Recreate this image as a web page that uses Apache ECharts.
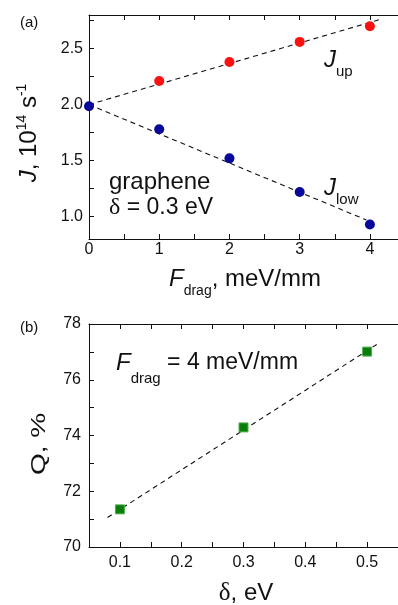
<!DOCTYPE html>
<html>
<head>
<meta charset="utf-8">
<script src="https://cdn.jsdelivr.net/npm/echarts@6/dist/echarts.min.js"></script>
<style>
html,body{margin:0;padding:0;background:#fff;}
#c{width:398px;height:605px;}
</style>
</head>
<body>
<div id="c"></div>
<script>
// ---- Data (panel a) ----
const fDragUp = [1, 2, 3, 4];
const jUp = [2.21, 2.38, 2.56, 2.70];
const fDragLow = [0, 1, 2, 3, 4];
const jLow = [1.985, 1.78, 1.52, 1.22, 0.93];
const fitUpX = [0, 4.17];
const fitUpY = [2.0, 2.765];
const fitLowX = [0, 3.95];
const fitLowY = [2.0, 0.97];
// tick labels (panel a)
const aXLabels = [0, 1, 2, 3, 4];
const aXTicks = [0, 0.5, 1, 1.5, 2, 2.5, 3, 3.5, 4];
const aYLabels = [1.0, 1.5, 2.0, 2.5];
const aYTicks = [1.0, 1.25, 1.5, 1.75, 2.0, 2.25, 2.5, 2.75];

// ---- Data (panel b) ----
const delta = [0.1, 0.3, 0.5];
const qVals = [71.35, 74.29, 77.01];
const fitQX = [0.08, 0.52];
const fitQY = [71.06, 77.33];
// tick labels (panel b)
const bXLabels = [0.1, 0.2, 0.3, 0.4, 0.5];
const bXTicks = [0.1, 0.15, 0.2, 0.25, 0.3, 0.35, 0.4, 0.45, 0.5];
const bYLabels = [70, 72, 74, 76, 78];
const bYTicks = [70, 71, 72, 73, 74, 75, 76, 77, 78];

const FONT = '"Liberation Sans", Arial, sans-serif';
const SERIF = '"Liberation Serif", "Times New Roman", serif';
const AX = '#111';

function axisBase(extra) {
  return Object.assign({
    type: 'value',
    splitLine: { show: false },
    axisLine: { show: true, onZero: false, lineStyle: { color: AX, width: 1 } },
    axisTick: { show: true, inside: true, length: 5, lineStyle: { color: AX, width: 1 } },
    axisLabel: { show: true, color: '#111', fontSize: 16, fontFamily: FONT }
  }, extra);
}
function ticksOnly(extra, ticks) {
  const o = axisBase(extra);
  o.axisLabel = { show: false };
  o.axisTick = { show: true, inside: true, length: 5, lineStyle: { color: AX, width: 1 }, customValues: ticks };
  return o;
}

const zip = (xs, ys) => xs.map((x, i) => [x, ys[i]]);
const txt = '#111';

const option = {
  animation: false,
  backgroundColor: '#fff',
  textStyle: { fontFamily: FONT },
  grid: [
    { left: 89, top: 15, width: 311, height: 224, containLabel: false },
    { left: 89, top: 324, width: 317, height: 223, containLabel: false }
  ],
  xAxis: [
    (function () {
      const o = axisBase({ gridIndex: 0, min: 0, max: 4.4, position: 'bottom' });
      o.axisLabel.customValues = aXLabels; o.axisLabel.margin = 3;
      o.axisTick.customValues = aXTicks;
      return o;
    })(),
    ticksOnly({ gridIndex: 0, min: 0, max: 4.4, position: 'top' }, aXTicks),
    (function () {
      const o = axisBase({ gridIndex: 1, min: 0.05, max: 0.55, position: 'bottom' });
      o.axisLabel.customValues = bXLabels; o.axisLabel.margin = 8;
      o.axisLabel.formatter = v => v.toFixed(1);
      o.axisTick.customValues = bXTicks;
      return o;
    })(),
    ticksOnly({ gridIndex: 1, min: 0.05, max: 0.55, position: 'top' }, bXTicks)
  ],
  yAxis: [
    (function () {
      const o = axisBase({ gridIndex: 0, min: 0.8, max: 2.8, position: 'left' });
      o.axisLabel.customValues = aYLabels; o.axisLabel.margin = 6;
      o.axisLabel.formatter = v => v.toFixed(1);
      o.axisTick.customValues = aYTicks;
      return o;
    })(),
    (function () {
      const o = axisBase({ gridIndex: 1, min: 70, max: 78, position: 'left' });
      o.axisLabel.customValues = bYLabels; o.axisLabel.margin = 8;
      o.axisTick.customValues = bYTicks;
      return o;
    })()
  ],
  series: [
    { type: 'line', xAxisIndex: 0, yAxisIndex: 0, data: zip(fitUpX, fitUpY), symbol: 'none',
      lineStyle: { color: '#111', width: 1.1, type: [5, 4] }, z: 2, silent: true },
    { type: 'line', xAxisIndex: 0, yAxisIndex: 0, data: zip(fitLowX, fitLowY), symbol: 'none',
      lineStyle: { color: '#111', width: 1.1, type: [5, 4] }, z: 2, silent: true },
    { type: 'scatter', xAxisIndex: 0, yAxisIndex: 0, data: zip(fDragUp, jUp), symbol: 'circle', symbolSize: 10,
      itemStyle: { color: '#ff1010', opacity: 1 }, clip: false, z: 3 },
    { type: 'scatter', xAxisIndex: 0, yAxisIndex: 0, data: zip(fDragLow, jLow), symbol: 'circle', symbolSize: 10,
      itemStyle: { color: '#08089a', opacity: 1 }, clip: false, z: 3 },
    { type: 'line', xAxisIndex: 2, yAxisIndex: 1, data: zip(fitQX, fitQY), symbol: 'none',
      lineStyle: { color: '#111', width: 1.1, type: [5, 4] }, z: 2, silent: true },
    { type: 'scatter', xAxisIndex: 2, yAxisIndex: 1, data: zip(delta, qVals), symbol: 'rect', symbolSize: 9,
      itemStyle: { color: '#0a7d0a', borderColor: '#52b052', borderWidth: 1, opacity: 1 }, clip: false, z: 3 }
  ],
  graphic: [
    { type: 'text', x: 20, y: 23, style: { text: '(a)', fontSize: 15, fontFamily: FONT, fill: txt, verticalAlign: 'middle' } },
    { type: 'text', x: 20, y: 328, style: { text: '(b)', fontSize: 15, fontFamily: FONT, fill: txt, verticalAlign: 'middle' } },
    { type: 'text', x: 29, y: 133, rotation: Math.PI / 2,
      style: { text: '{i|J}{n|, 10}{sup|14}{n| s}{sup|-1}', align: 'center', verticalAlign: 'middle', fill: txt,
        rich: { i: { fontSize: 24, fontStyle: 'italic', fontFamily: FONT }, n: { fontSize: 24, fontFamily: FONT },
                sup: { fontSize: 14, fontFamily: FONT, padding: [0, 0, 14, 0] } } } },
    { type: 'text', x: 245, y: 279,
      style: { text: '{i|F}{sub|drag}{n|, meV/mm}', align: 'center', verticalAlign: 'middle', fill: txt,
        rich: { i: { fontSize: 24, fontStyle: 'italic', fontFamily: FONT }, n: { fontSize: 24, fontFamily: FONT },
                sub: { fontSize: 14, fontFamily: FONT, padding: [24, 0, 0, 0] } } } },
    { type: 'text', x: 109, y: 182, style: { text: 'graphene', fontSize: 24, fontFamily: FONT, fill: txt, verticalAlign: 'middle' } },
    { type: 'text', x: 109, y: 208,
      style: { text: '{d|δ}{n| = 0.3 eV}', verticalAlign: 'middle', fill: txt,
        rich: { d: { fontSize: 24, fontFamily: SERIF }, n: { fontSize: 23, fontFamily: FONT } } } },
    { type: 'text', x: 324, y: 60,
      style: { text: '{i|J}{sub|up}', verticalAlign: 'middle', fill: txt,
        rich: { i: { fontSize: 24, fontStyle: 'italic', fontFamily: FONT }, sub: { fontSize: 15, fontFamily: FONT, padding: [24, 0, 0, 0] } } } },
    { type: 'text', x: 324, y: 188,
      style: { text: '{i|J}{sub|low}', verticalAlign: 'middle', fill: txt,
        rich: { i: { fontSize: 24, fontStyle: 'italic', fontFamily: FONT }, sub: { fontSize: 15, fontFamily: FONT, padding: [24, 0, 0, 0] } } } },
    { type: 'text', x: 116, y: 363,
      style: { text: '{i|F}{sub|drag}{n| = 4 meV/mm}', verticalAlign: 'middle', fill: txt,
        rich: { i: { fontSize: 24, fontStyle: 'italic', fontFamily: FONT }, n: { fontSize: 23, fontFamily: FONT },
                sub: { fontSize: 15, fontFamily: FONT, padding: [32, 0, 0, 0] } } } },
    { type: 'text', x: 39, y: 444, rotation: Math.PI / 2, scaleX: 1.4,
      style: { text: 'Q, %', fontSize: 20, fontFamily: FONT, fill: txt, align: 'center', verticalAlign: 'middle' } },
    { type: 'text', x: 246, y: 593,
      style: { text: '{d|δ}{n|, eV}', align: 'center', verticalAlign: 'middle', fill: txt,
        rich: { d: { fontSize: 25, fontFamily: SERIF }, n: { fontSize: 24, fontFamily: FONT } } } }
  ]
};

const chart = echarts.init(document.getElementById('c'), null, { renderer: 'canvas' });
chart.setOption(option);
</script>
</body>
</html>
